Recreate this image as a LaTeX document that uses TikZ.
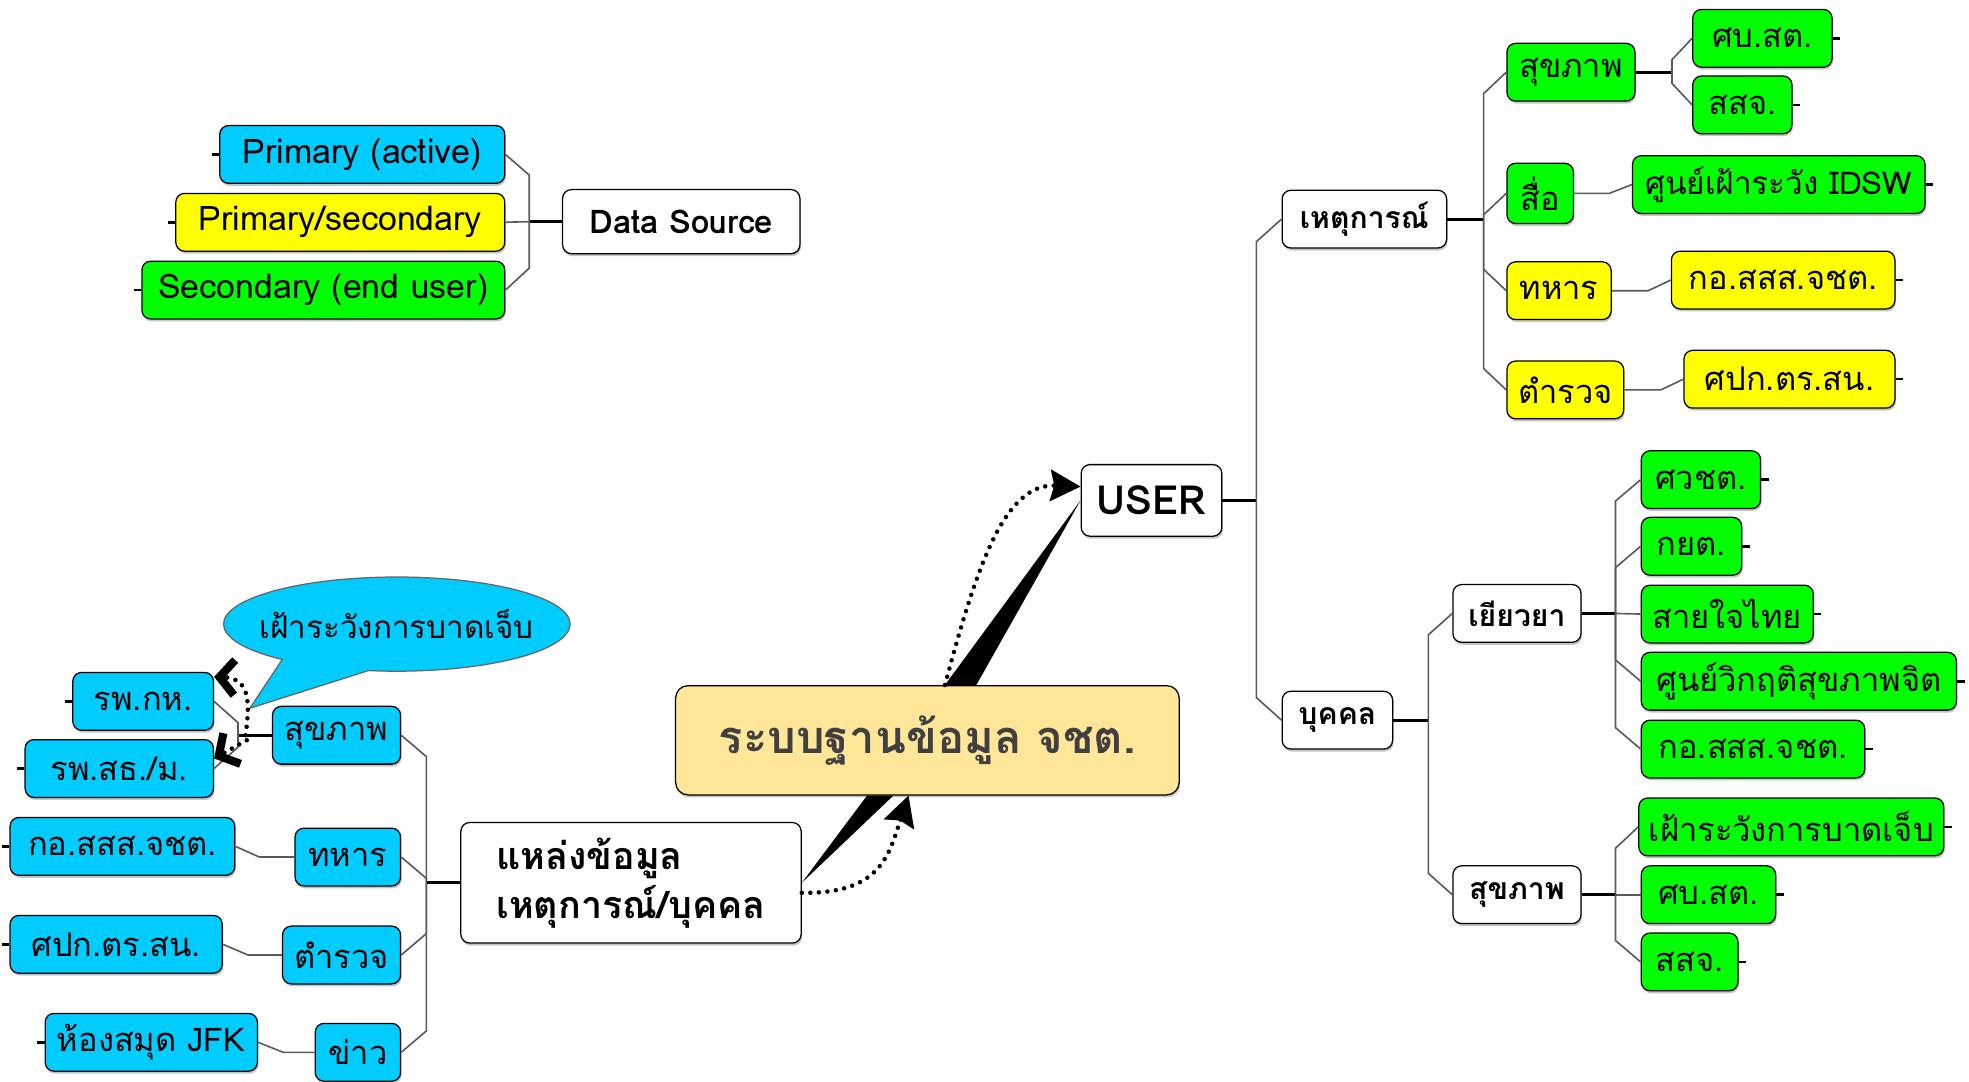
\documentclass[tikz,border=0pt]{standalone}
\usepackage{fontspec}
\setmainfont{Loma}[Script=Thai]
\usetikzlibrary{arrows.meta,shapes.callouts,shadows}

\definecolor{skyfill}{HTML}{00CCFF}
\definecolor{leaffill}{HTML}{00FF00}
\definecolor{warnfill}{HTML}{FFFF00}
\definecolor{corefill}{HTML}{FFE699}
\definecolor{branchgray}{HTML}{5A5A5A}

\tikzset{topic/.style={draw, rounded corners=7pt, minimum height=46pt, inner xsep=8pt, font=\fontsize{26}{30}\selectfont, drop shadow={shadow xshift=0.8pt, shadow yshift=-2pt, fill=black!45}}}
\tikzset{mainbox/.style={topic, fill=white, font=\fontsize{24}{28}\selectfont\bfseries}}
\tikzset{skybox/.style={topic, fill=skyfill}}
\tikzset{greenbox/.style={topic, fill=leaffill}}
\tikzset{yellowbox/.style={topic, fill=warnfill}}
\tikzset{legendtext/.style={font=\fontsize{27}{31}\selectfont}}
\tikzset{branch/.style={draw=branchgray, line width=1.3pt}}
\tikzset{stem/.style={draw=black, line width=2.2pt}}
\tikzset{stub/.style={line width=2pt}}
\tikzset{flow/.style={fill=black}}
\tikzset{trace/.style={line width=3.6pt, line cap=round, dash pattern=on 0pt off 6.8pt}}
\tikzset{bighead/.style={-{Stealth[length=24pt,width=25pt,inset=3pt]}}}
\tikzset{barbhead/.style={-{Straight Barb[length=12pt,width=28pt,line width=6.5pt]}}}

\begin{document}
\begin{tikzpicture}[x=1pt, y=-1pt, line width=1pt]
	\useasboundingbox (0,0) rectangle (1568,861);

	\node[mainbox, minimum width=189pt, minimum height=51pt, font=\fontsize{26}{30}\selectfont\bfseries] (data-source) at (542.5,176.5) {Data Source};
	\node[skybox, legendtext, minimum width=227pt] (primary) at (288.5,123) {Primary (active)};
	\node[yellowbox, legendtext, minimum width=262pt] (primary-secondary) at (271,177) {Primary/secondary};
	\node[greenbox, legendtext, minimum width=289pt] (secondary) at (257.5,231) {Secondary (end user)};

	\node[draw, fill=corefill, rounded corners=10pt, minimum width=401pt, minimum height=87pt, text=black!75, font=\fontsize{36}{40}\selectfont\bfseries, drop shadow={shadow xshift=0.8pt, shadow yshift=-2pt, fill=black!45}] (database) at (738.5,589.5) {ระบบฐานข้อมูล จชต.};
	\node[mainbox, minimum width=271pt, minimum height=96pt, align=left, font=\fontsize{30}{39}\selectfont\bfseries] (source) at (502.5,703) {แหล่งข้อมูล\\เหตุการณ์/บุคคล};
	\node[mainbox, minimum width=112pt, minimum height=57pt, font=\fontsize{32}{36}\selectfont\bfseries] (user) at (917,398.5) {USER};

	\node[mainbox, minimum width=131pt] (event) at (1086.5,174.5) {เหตุการณ์};
	\node[greenbox, minimum width=102pt] (ev-health) at (1251,57.5) {สุขภาพ};
	\node[greenbox, minimum width=111pt] (ev-sbst) at (1403.5,30.5) {ศบ.สต.};
	\node[greenbox, minimum width=79pt] (ev-ssj) at (1387.5,83.5) {สสจ.};
	\node[greenbox, minimum width=53pt, minimum height=48pt] (ev-media) at (1226.5,154) {สื่อ};
	\node[greenbox, minimum width=233pt, font=\fontsize{25}{29}\selectfont] (ev-idsw) at (1416.5,147) {ศูนย์เฝ้าระวัง IDSW};
	\node[yellowbox, minimum width=83pt] (ev-army) at (1241.5,231.5) {ทหาร};
	\node[yellowbox, minimum width=178pt] (ev-isoc) at (1420,223) {กอ.สสส.จชต.};
	\node[yellowbox, minimum width=93pt] (ev-police) at (1246.5,310.5) {ตำรวจ};
	\node[yellowbox, minimum width=168pt] (ev-spk) at (1425,302) {ศปก.ตร.สน.};

	\node[mainbox, minimum width=88pt] (person) at (1065,573.5) {บุคคล};
	\node[mainbox, minimum width=102pt] (relief) at (1208,488.5) {เยียวยา};
	\node[greenbox, minimum width=95pt] (relief-1) at (1354.5,382) {ศวชต.};
	\node[greenbox, minimum width=80pt] (relief-2) at (1347,435) {กยต.};
	\node[greenbox, minimum width=137pt] (relief-3) at (1375.5,489) {สายใจไทย};
	\node[greenbox, minimum width=251pt] (relief-4) at (1432.5,542.5) {ศูนย์วิกฤติสุขภาพจิต};
	\node[greenbox, minimum width=178pt] (relief-5) at (1396,596.5) {กอ.สสส.จชต.};
	\node[mainbox, minimum width=102pt] (pr-health) at (1208,712.5) {สุขภาพ};
	\node[greenbox, minimum width=239pt] (pr-health-1) at (1426.5,658.5) {เฝ้าระวังการบาดเจ็บ};
	\node[greenbox, minimum width=107pt] (pr-health-2) at (1360.5,712.5) {ศบ.สต.};
	\node[greenbox, minimum width=77pt] (pr-health-3) at (1345.5,766) {สสจ.};

	\node[skybox, minimum width=102pt] (src-health) at (268,585.5) {สุขภาพ};
	\node[skybox, minimum width=112pt] (hosp-1) at (114,558.5) {รพ.กห.};
	\node[skybox, minimum width=150pt] (hosp-2) at (95,612) {รพ.สธ./ม.};
	\node[skybox, minimum width=84pt] (src-army) at (277,682.5) {ทหาร};
	\node[skybox, minimum width=179pt] (src-isoc) at (97.5,674) {กอ.สสส.จชต.};
	\node[skybox, minimum width=94pt] (src-police) at (272,760.5) {ตำรวจ};
	\node[skybox, minimum width=169pt] (src-spk) at (92.5,752) {ศปก.ตร.สน.};
	\node[skybox, minimum width=68pt] (src-news) at (285,838) {ข่าว};
	\node[skybox, minimum width=169pt] (src-jfk) at (120.5,830) {ห้องสมุด JFK};

	\coordinate (note-tip) at (199,564);
	\node[ellipse callout, draw=black!60, fill=skyfill, inner xsep=-12pt, minimum width=276pt, minimum height=75pt, callout absolute pointer={(note-tip)}, callout pointer arc=32, font=\fontsize{25}{29}\selectfont] (injury-note) at (316,497) {เฝ้าระวังการบาดเจ็บ};

	\draw[stem] (data-source.west) -- ++(-26,0) coordinate (legend-bus);
	\draw[branch] (legend-bus) -- ++(0,-37) -- (primary.east);
	\draw[branch] (legend-bus) -- (primary-secondary.east);
	\draw[branch] (legend-bus) -- ++(0,37) -- (secondary.east);

	\draw[stem] (user.east) -- ++(27,0) coordinate (user-bus);
	\draw[branch] (user-bus) -- ++(0,-206) -- (event.west);
	\draw[branch] (user-bus) -- ++(0,157) -- (person.west);

	\draw[stem] (event.east) -- ++(29,0) coordinate (event-bus);
	\draw[branch] (event-bus) -- ++(0,-100) -- (ev-health.west);
	\draw[branch] (event-bus) -- ++(0,-3.5) -- (ev-media.west);
	\draw[branch] (event-bus) -- ++(0,40) -- (ev-army.west);
	\draw[branch] (event-bus) -- ++(0,119) -- (ev-police.west);
	\draw[stem] (ev-health.east) -- ++(29,0) coordinate (ev-health-bus);
	\draw[branch] (ev-health-bus) -- ++(0,-10) -- (ev-sbst.west);
	\draw[branch] (ev-health-bus) -- ++(0,9) -- (ev-ssj.west);
	\draw[branch] (ev-media.east) -- ++(28,0) -- (ev-idsw.west);
	\draw[branch] (ev-army.east) -- ++(29,0) -- (ev-isoc.west);
	\draw[branch] (ev-police.east) -- ++(29,0) -- (ev-spk.west);

	\draw[stem] (person.east) -- ++(28,0) coordinate (person-bus);
	\draw[branch] (person-bus) -- ++(0,-68) -- (relief.west);
	\draw[branch] (person-bus) -- ++(0,122) -- (pr-health.west);
	\draw[stem] (relief.east) -- ++(27,0) coordinate (relief-bus);
	\draw[branch] (relief-bus) -- ++(0,-89.5) -- (relief-1.west);
	\draw[branch] (relief-bus) -- ++(0,-36.5) -- (relief-2.west);
	\draw[branch] (relief-bus) -- (relief-3.west);
	\draw[branch] (relief-bus) -- ++(0,37) -- (relief-4.west);
	\draw[branch] (relief-bus) -- ++(0,91) -- (relief-5.west);
	\draw[stem] (pr-health.east) -- ++(27,0) coordinate (pr-health-bus);
	\draw[branch] (pr-health-bus) -- ++(0,-37) -- (pr-health-1.west);
	\draw[branch] (pr-health-bus) -- (pr-health-2.west);
	\draw[branch] (pr-health-bus) -- ++(0,36.5) -- (pr-health-3.west);

	\draw[stem] (source.west) -- ++(-27,0) coordinate (source-bus);
	\draw[branch] (source-bus) -- ++(0,-100.5) -- (src-health.east);
	\draw[branch] (source-bus) -- ++(0,-3.5) -- (src-army.east);
	\draw[branch] (source-bus) -- ++(0,40.5) -- (src-police.east);
	\draw[branch] (source-bus) -- ++(0,118) -- (src-news.east);
	\draw[stem] (src-health.west) -- ++(-27,0) coordinate (src-health-bus);
	\draw[branch] (src-health-bus) -- ++(0,-10) -- (hosp-1.east);
	\draw[branch] (src-health-bus) -- ++(0,9.5) -- (hosp-2.east);
	\draw[branch] (src-army.west) -- ++(-28,0) -- (src-isoc.east);
	\draw[branch] (src-police.west) -- ++(-27,0) -- (src-spk.east);
	\draw[branch] (src-news.west) -- ++(-25,0) -- (src-jfk.east);

	\foreach \leaf in {ev-sbst, ev-ssj, ev-idsw, ev-isoc, ev-spk, relief-1, relief-2, relief-3, relief-4, relief-5, pr-health-1, pr-health-2, pr-health-3}
		\draw[stub] (\leaf.east) -- ++(6,0);
	\foreach \leaf in {primary, primary-secondary, secondary, hosp-1, hosp-2, src-isoc, src-spk, src-jfk}
		\draw[stub] (\leaf.west) -- ++(-6,0);

	\fill[flow] (source.east) -- ([xshift=-48pt]database.south) -- ([xshift=-27pt]database.south) -- cycle;
	\fill[flow] ([xshift=14pt]database.north) -- ([xshift=39pt]database.north) -- (user.west) -- cycle;
	\draw[trace, bighead] ([yshift=-8pt]source.east) .. controls (702,712) and (708,680) .. ([xshift=-15pt]database.south);
	\draw[trace, bighead] ([xshift=14pt]database.north) .. controls (778,450) and (800,385) .. ([yshift=11pt]user.west);
	\draw[trace, barbhead] ([xshift=-21pt]src-health.west) .. controls (200,555) and (197,540) .. ([yshift=-4pt]hosp-1.north east);
	\draw[trace, barbhead] ([xshift=-20pt,yshift=-4pt]src-health.west) -- ([yshift=8pt]hosp-2.east);
\end{tikzpicture}
\end{document}
